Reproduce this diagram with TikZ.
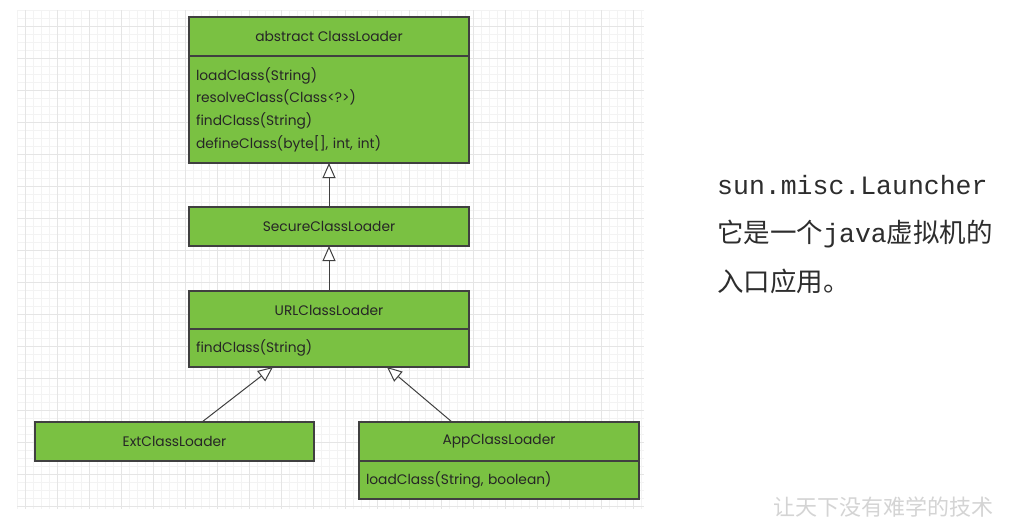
\documentclass[tikz,border=0pt]{standalone}
\usepackage{fontspec}
\newfontfamily\umlfont{Poppins}
\newfontfamily\codefont{Liberation Mono}
\newfontfamily\cjkfont{Noto Sans CJK SC}
\usetikzlibrary{positioning,arrows.meta}
\definecolor{classcol}{RGB}{122,193,66}
\definecolor{edgecol}{RGB}{64,64,64}
\definecolor{gridminor}{RGB}{243,243,243}
\definecolor{gridmajor}{RGB}{229,229,229}
\definecolor{notecol}{RGB}{45,45,45}
\definecolor{markcol}{RGB}{212,212,212}
\tikzset{
  classhead/.style={
    rectangle,
    draw=edgecol,
    fill=classcol,
    line width=1.2pt,
    minimum width=280pt,
    minimum height=39pt,
    inner sep=0pt,
    outer sep=0pt,
    text=black!85,
    font={\umlfont\fontsize{13.8}{16}\selectfont}
  },
  classbody/.style={
    classhead,
    align=left,
    text width=266pt,
    inner xsep=7pt,
    font={\umlfont\fontsize{13.8}{22.6}\selectfont}
  },
  inherit/.style={draw=edgecol,line width=1pt,-{Triangle[length=15pt,width=13pt,fill=white]}},
  note/.style={align=left,inner sep=0pt,text=notecol,font={\codefont\fontsize{26.5}{48.5}\selectfont}},
  watermark/.style={inner sep=0pt,text=markcol,font={\cjkfont\fontsize{22}{24}\selectfont}},
}

\begin{document}
\begin{tikzpicture}[x=1pt,y=-1pt]
  \useasboundingbox (0,0) rectangle (1011,525);
  \fill[white] (0,0) rectangle (1011,525);

  % background grid
  \foreach \gx in {0,8,...,624}
    \draw[gridminor,line width=0.6pt] (17+\gx,10) -- (17+\gx,509);
  \foreach \gy in {0,8,...,496}
    \draw[gridminor,line width=0.6pt] (17,10+\gy) -- (644,10+\gy);
  \foreach \gx in {8,40,...,616}
    \draw[gridmajor,line width=0.8pt] (17+\gx,10) -- (17+\gx,509);
  \foreach \gy in {16,48,...,496}
    \draw[gridmajor,line width=0.8pt] (17,10+\gy) -- (644,10+\gy);

  % classes
  \node[classhead] (abs) at (329,36.5) {abstract ClassLoader};
  \node[classbody,minimum height=107pt,below=0pt of abs] (absbody)
    {loadClass(String)\\ resolveClass(Class<?>)\\ findClass(String)\\ defineClass(byte[], int, int)};

  \node[classhead] (secure) at (329,226.5) {SecureClassLoader};

  \node[classhead,minimum height=38pt] (url) at (329,310) {URLClassLoader};
  \node[classbody,minimum height=38pt,below=0pt of url] (urlbody) {findClass(String)};

  \node[classhead,minimum width=279pt] (ext) at (174.5,441.5) {ExtClassLoader};

  \node[classhead] (app) at (499,441.5) {AppClassLoader};
  \node[classbody,minimum height=38pt,below=0pt of app] (appbody) {loadClass(String, boolean)};

  % inheritance
  \draw[inherit] (secure) -- (absbody);
  \draw[inherit] (url) -- (secure);
  \draw[inherit] ([xshift=27.5pt]ext.north) -- ([xshift=-56pt]urlbody.south);
  \draw[inherit] ([xshift=-47pt]app.north) -- ([xshift=58pt]urlbody.south);

  % notes
  \node[note,anchor=base west] (launcher) at (717,291)
    {sun.misc.Launcher\\ {\cjkfont 它是一个}java{\cjkfont 虚拟机的}\\ {\cjkfont 入口应用。}};
  \node[watermark,anchor=west] (mark) at (773,507) {让天下没有难学的技术};
\end{tikzpicture}
\end{document}
